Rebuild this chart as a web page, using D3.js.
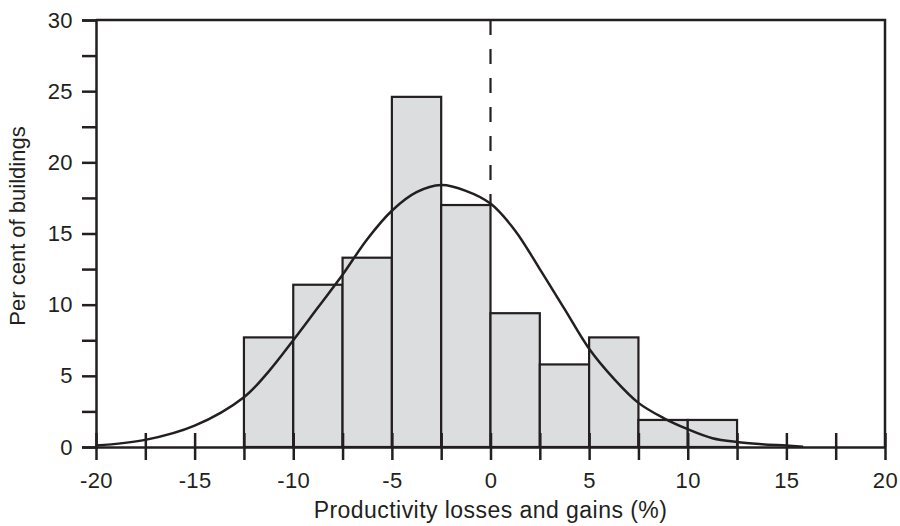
<!DOCTYPE html>
<html>
<head>
<meta charset="utf-8">
<script src="https://cdn.jsdelivr.net/npm/d3@7"></script>
<style>
  html, body { margin: 0; padding: 0; background: #ffffff; }
  svg { display: block; }
  text { font-family: "Liberation Sans", Arial, Helvetica, sans-serif; fill: #231f20; }
</style>
</head>
<body>
<script>
// Histogram bins (lower edge, upper edge) and share of buildings in each (%)
const binStarts = [-12.5, -10, -7.5, -5, -2.5, 0, 2.5, 5, 7.5, 10];
const binWidth = 2.5;
const binValues = [7.7, 11.4, 13.3, 24.6, 17.0, 9.4, 5.8, 7.7, 1.9, 1.9];

// Fitted distribution curve, sampled points (x in %, y in % of buildings)
const curveX = [-20, -17.5, -15, -12.5, -11.25, -10, -8.75, -7.5, -6.25, -5, -3.75, -2.5, -1.25, 0, 1.25, 2.5, 3.75, 5, 6.25, 7.5, 8.75, 10, 11.25, 12.5, 13.75, 15, 15.85];
const curveY = [0.1, 0.5, 1.5, 3.5, 5.3, 7.5, 9.8, 12.1, 14.6, 16.6, 17.9, 18.4, 18.0, 17.1, 15.2, 12.5, 9.7, 6.9, 4.8, 3.1, 2.05, 1.25, 0.62, 0.35, 0.2, 0.1, 0.02];

// Axis ticks
const xTickLabels = [-20, -15, -10, -5, 0, 5, 10, 15, 20];
const xMinorTicks = d3.range(-20, 20.01, 2.5);
const yTickLabels = [0, 5, 10, 15, 20, 25, 30];
const yMinorTicks = d3.range(0, 30.01, 2.5);

const W = 900, H = 526;
const ink = "#231f20";
const barFill = "#dcdddf";

const svg = d3.select("body").append("svg").attr("width", W).attr("height", H);

const x = d3.scaleLinear().domain([-20, 20]).range([96, 885]);
const y = d3.scaleLinear().domain([0, 30]).range([447, 20]);

// Bars
svg.append("g").selectAll("rect")
  .data(binStarts.map((s, i) => ({ s, v: binValues[i] })))
  .join("rect")
  .attr("x", d => x(d.s))
  .attr("width", d => x(d.s + binWidth) - x(d.s))
  .attr("y", d => y(d.v))
  .attr("height", d => y(0) - y(d.v))
  .attr("fill", barFill)
  .attr("stroke", ink)
  .attr("stroke-width", 2.2);

// Zero reference line (dashed), from top of frame down to the bar at 0
svg.append("line")
  .attr("x1", x(0)).attr("x2", x(0))
  .attr("y1", y(30)).attr("y2", y(binValues[binStarts.indexOf(-2.5)]))
  .attr("stroke", ink)
  .attr("stroke-width", 2.2)
  .attr("stroke-dasharray", "15,14");

// Distribution curve
const line = d3.line()
  .x(d => x(d[0]))
  .y(d => y(d[1]))
  .curve(d3.curveCatmullRom.alpha(0.5));
svg.append("path")
  .datum(curveX.map((v, i) => [v, curveY[i]]))
  .attr("d", line)
  .attr("fill", "none")
  .attr("stroke", ink)
  .attr("stroke-width", 2.5);

// Frame: top and right edges
svg.append("path")
  .attr("d", `M${x(-20)},${y(30)}H${x(20)}V${y(0)}`)
  .attr("fill", "none")
  .attr("stroke", ink)
  .attr("stroke-width", 2.5);

// Y axis (ticks outward to the left)
const yAxis = d3.axisLeft(y)
  .tickValues(yMinorTicks)
  .tickSize(14)
  .tickPadding(9)
  .tickFormat(d => yTickLabels.includes(d) ? String(d) : "");
const gy = svg.append("g").attr("transform", `translate(${x(-20)},0)`).call(yAxis);
gy.select(".domain").attr("stroke", ink).attr("stroke-width", 2.5);
gy.selectAll(".tick line").attr("stroke", ink).attr("stroke-width", 2.5);
gy.selectAll(".tick text")
  .attr("font-size", 22)
  .attr("letter-spacing", 0.4)
  .attr("font-family", "Liberation Sans, Arial, sans-serif")
  .attr("fill", ink);

// X axis (ticks crossing the axis line)
const xAxis = d3.axisBottom(x)
  .tickValues(xMinorTicks)
  .tickSizeInner(13)
  .tickSizeOuter(0)
  .tickPadding(12)
  .tickFormat(d => xTickLabels.includes(d) ? String(d) : "");
const gx = svg.append("g").attr("transform", `translate(0,${y(0)})`).call(xAxis);
gx.select(".domain").attr("stroke", ink).attr("stroke-width", 2.5);
gx.selectAll(".tick line").attr("y1", -14).attr("stroke", ink).attr("stroke-width", 2.5);
gx.selectAll(".tick text")
  .attr("font-size", 22)
  .attr("letter-spacing", 0.4)
  .attr("font-family", "Liberation Sans, Arial, sans-serif")
  .attr("fill", ink);

// Axis titles
svg.append("text")
  .attr("x", (x(-20) + x(20)) / 2)
  .attr("y", 518)
  .attr("text-anchor", "middle")
  .attr("font-size", 23)
  .attr("letter-spacing", 0.45)
  .text("Productivity losses and gains (%)");

svg.append("text")
  .attr("transform", `translate(25,226) rotate(-90)`)
  .attr("text-anchor", "middle")
  .attr("font-size", 22)
  .text("Per cent of buildings");
</script>
</body>
</html>
